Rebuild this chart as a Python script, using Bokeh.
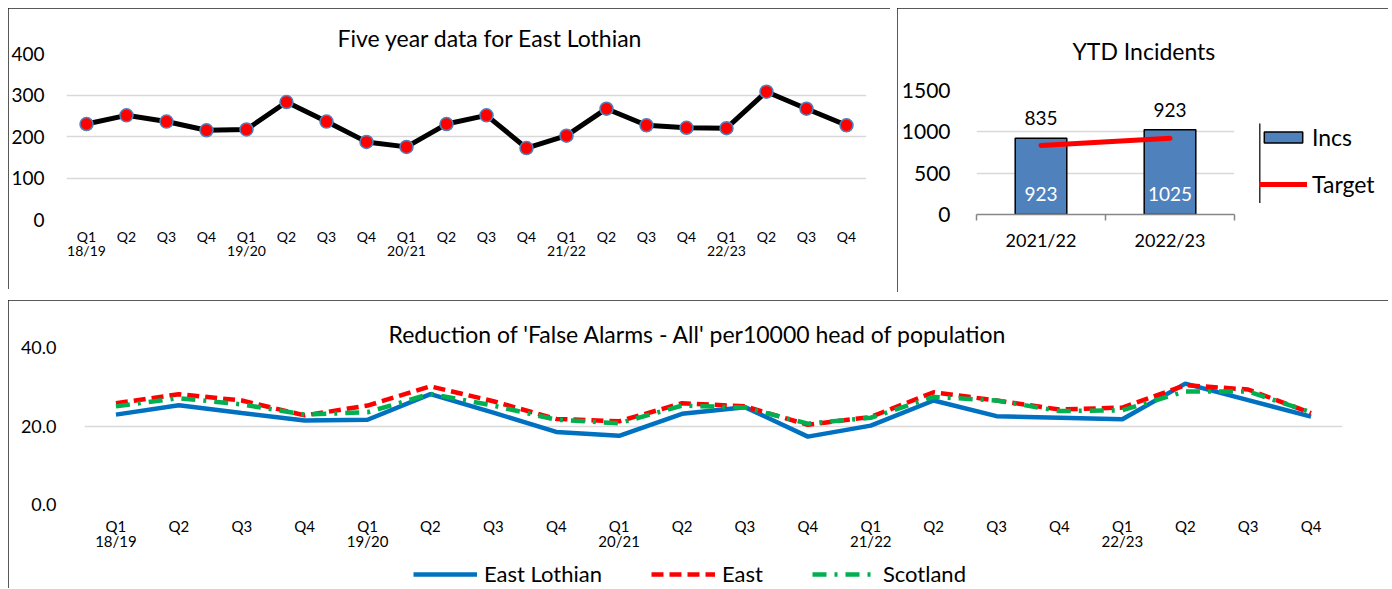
from bokeh.plotting import figure
from bokeh.models import FixedTicker, Legend, LegendItem, Range1d, PrintfTickFormatter
from bokeh.embed import file_html
from bokeh.resources import INLINE
from bokeh.core.properties import value

FONT = "Lato"

# ---------------- data ----------------
quarters = ["Q1", "Q2", "Q3", "Q4"] * 5
years = ["18/19", "19/20", "20/21", "21/22", "22/23"]
tick_labels = [q + ("\n" + years[i // 4] if q == "Q1" else "") for i, q in enumerate(quarters)]

five_year = [230, 251, 236, 215, 217, 283, 236, 187, 175, 230,
             251, 172, 202, 267, 227, 221, 220, 308, 267, 227]

ytd_years = ["2021/22", "2022/23"]
ytd_incs = [923, 1025]
ytd_target = [835, 923]

east_lothian = [22.9, 25.3, 23.3, 21.4, 21.6, 28.1, 23.4, 18.5, 17.5, 23.1,
                24.8, 17.3, 20.1, 26.5, 22.5, 22.1, 21.7, 30.8, 26.6, 22.4]
east = [25.8, 28.1, 26.5, 22.7, 25.2, 30.1, 26.3, 21.8, 21.2, 25.8,
        25.0, 20.3, 22.3, 28.6, 26.5, 24.2, 24.7, 30.4, 29.3, 23.3]
scotland = [25.0, 27.1, 25.5, 22.9, 23.5, 28.2, 25.2, 21.6, 20.7, 25.2,
            24.7, 20.6, 22.1, 27.4, 26.5, 23.8, 24.0, 28.8, 28.8, 23.5]

xs = list(range(len(quarters)))
overrides = {i: lab for i, lab in enumerate(tick_labels)}

EL_STYLE = dict(line_color="#0070c0", line_width=4.5)
E_STYLE = dict(line_color="#ff0000", line_width=4.5, line_dash="12 6")
S_STYLE = dict(line_color="#00b050", line_width=4.5, line_dash="14 8 3 8")
BAR_STYLE = dict(fill_color="#4f81bd", line_color="black", line_width=1.5)
TGT_STYLE = dict(line_color="#ff0000", line_width=5, line_cap="round")


def box(left, top, outline=True):
    s = {"position": "absolute", "left": f"{left}px", "top": f"{top}px"}
    if outline:
        s.update({"outline": "1.5px solid #222", "outline-offset": "-1.5px"})
    return s


def style_common(p):
    p.outline_line_color = None
    p.background_fill_color = "white"
    p.border_fill_color = "white"
    p.title.text_font = FONT
    p.title.text_font_style = "normal"
    p.title.text_color = "black"
    p.title.align = "left"
    p.title.text_font_size = "23px"
    for ax in (p.xaxis, p.yaxis):
        ax.major_label_text_font = FONT
        ax.major_label_text_color = "black"
    p.xgrid.grid_line_color = None
    p.ygrid.grid_line_color = "#d9d9d9"
    p.ygrid.grid_line_width = 1.5
    p.yaxis.axis_line_color = None
    p.yaxis.major_tick_line_color = None
    p.yaxis.minor_tick_line_color = None


def legend_figure(width, height, left, top):
    # transparent canvas that only shows a legend; its ranges keep the proxy
    # renderers' data out of view
    f = figure(width=width, height=height, output_backend="svg", toolbar_location=None,
               x_range=Range1d(100, 101), y_range=Range1d(100, 101),
               x_axis_location=None, y_axis_location=None, min_border=0,
               styles=box(left, top, outline=False))
    f.outline_line_color = None
    f.xgrid.visible = False
    f.ygrid.visible = False
    f.background_fill_alpha = 0
    f.border_fill_alpha = 0
    return f


# ---------------- chart 1: five year data ----------------
p1 = figure(width=882, height=281, output_backend="svg", toolbar_location=None,
            x_range=Range1d(-0.5, len(xs) - 0.5), y_range=Range1d(0, 400),
            min_border_left=52, min_border_right=24, min_border_top=45, min_border_bottom=70,
            title="Five year data for East Lothian", styles=box(8, 8))
style_common(p1)
p1.title.offset = 271
p1.title.standoff = 4
p1.xaxis.ticker = FixedTicker(ticks=xs)
p1.xaxis.major_label_overrides = overrides
p1.xaxis.axis_line_color = None
p1.xaxis.major_tick_line_color = None
p1.xaxis.minor_tick_line_color = None
p1.xaxis.major_label_text_font_size = "14px"
p1.xaxis.major_label_text_line_height = 0.85
p1.xaxis.major_label_standoff = 2
p1.yaxis.ticker = FixedTicker(ticks=[0, 100, 200, 300, 400])
p1.yaxis.major_label_text_font_size = "19px"
p1.yaxis.major_label_standoff = 16
p1.line(xs, five_year, line_color="black", line_width=5)
p1.scatter(xs, five_year, size=13, fill_color="#ff0000", line_color="#4f81bd", line_width=1.5)

# ---------------- chart 2: YTD incidents ----------------
bx = [i + 0.5 for i in range(len(ytd_years))]
p2 = figure(width=491, height=284, output_backend="svg", toolbar_location=None,
            x_range=Range1d(0, len(ytd_years)), y_range=Range1d(0, 1500),
            min_border_left=79, min_border_right=154, min_border_top=78, min_border_bottom=78,
            title="YTD Incidents", styles=box(897, 8))
style_common(p2)
p2.title.offset = 96
p2.title.standoff = 52
p2.xaxis.ticker = FixedTicker(ticks=bx, minor_ticks=list(range(len(ytd_years) + 1)))
p2.xaxis.major_label_overrides = {x: y for x, y in zip(bx, ytd_years)}
p2.xaxis.axis_line_color = "#868686"
p2.xaxis.axis_line_width = 1.5
p2.xaxis.major_tick_line_color = None
p2.xaxis.minor_tick_line_color = "#868686"
p2.xaxis.minor_tick_line_width = 1.5
p2.xaxis.minor_tick_in = 0
p2.xaxis.minor_tick_out = 6
p2.xaxis.major_label_text_font_size = "18px"
p2.xaxis.major_label_standoff = 8
p2.yaxis.ticker = FixedTicker(ticks=[0, 500, 1000, 1500])
p2.yaxis.major_label_text_font_size = "21px"
p2.yaxis.major_label_standoff = 20
p2.vbar(x=bx, top=ytd_incs, width=0.4, **BAR_STYLE)
p2.line(bx, ytd_target, **TGT_STYLE)
p2.text(x=bx, y=[0] * len(bx), text=[str(v) for v in ytd_incs], text_align="center",
        text_baseline="middle", y_offset=-21, text_color="white",
        text_font=value(FONT), text_font_size="19px")
p2.text(x=bx, y=ytd_incs, text=[str(v) for v in ytd_target], text_align="center",
        text_baseline="middle", y_offset=-20, text_color="black",
        text_font=value(FONT), text_font_size="19px")

# legend for chart 2 (separate transparent canvas so it is not clipped)
lg2 = legend_figure(128, 80, 1259, 123)
lb = lg2.vbar(x=bx, top=ytd_incs, width=0.4, **BAR_STYLE)
lt = lg2.line(bx, ytd_target, **TGT_STYLE)
lg2.add_layout(Legend(items=[LegendItem(label="Incs", renderers=[lb]),
                             LegendItem(label="Target", renderers=[lt])],
                      location="top_left", glyph_width=48, glyph_height=14,
                      label_text_font=FONT, label_text_font_size="23px", label_text_color="black",
                      spacing=19, label_standoff=5, border_line_color=None, padding=0, margin=0,
                      background_fill_alpha=0))

# ---------------- chart 3: false alarms ----------------
p3 = figure(width=1380, height=288, output_backend="svg", toolbar_location=None,
            x_range=Range1d(-0.5, len(xs) - 0.5), y_range=Range1d(0, 40),
            min_border_left=76, min_border_right=46, min_border_top=47, min_border_bottom=84,
            title="Reduction of 'False Alarms - All' per10000 head of population", styles=box(8, 300))
style_common(p3)
p3.title.offset = 304
p3.title.standoff = 0
p3.xaxis.ticker = FixedTicker(ticks=xs)
p3.xaxis.major_label_overrides = overrides
p3.xaxis.axis_line_color = None
p3.xaxis.major_tick_line_color = None
p3.xaxis.minor_tick_line_color = None
p3.xaxis.major_label_text_font_size = "15px"
p3.xaxis.major_label_text_line_height = 0.85
p3.xaxis.major_label_standoff = 6
p3.yaxis.ticker = FixedTicker(ticks=[0, 20, 40])
p3.yaxis.formatter = PrintfTickFormatter(format="%.1f")
p3.yaxis.major_label_text_font_size = "18px"
p3.yaxis.major_label_standoff = 22
p3.line(xs, east_lothian, **EL_STYLE)
p3.line(xs, east, **E_STYLE)
p3.line(xs, scotland, **S_STYLE)

# legend for chart 3 (separate transparent canvas below the axis labels)
lg3 = legend_figure(620, 28, 413, 560)
l1 = lg3.line(xs, east_lothian, **EL_STYLE)
l2 = lg3.line(xs, east, **E_STYLE)
l3 = lg3.line(xs, scotland, **S_STYLE)
lg3.add_layout(Legend(items=[LegendItem(label="East Lothian", renderers=[l1]),
                             LegendItem(label="East", renderers=[l2]),
                             LegendItem(label="Scotland", renderers=[l3])],
                      orientation="horizontal", location="top_left", glyph_width=64, glyph_height=20,
                      label_text_font=FONT, label_text_font_size="22px", label_text_color="black",
                      spacing=49, label_standoff=7, border_line_color=None, padding=0, margin=0,
                      background_fill_alpha=0))

open("out.html", "w").write(file_html([p1, p2, p3, lg2, lg3], INLINE))
